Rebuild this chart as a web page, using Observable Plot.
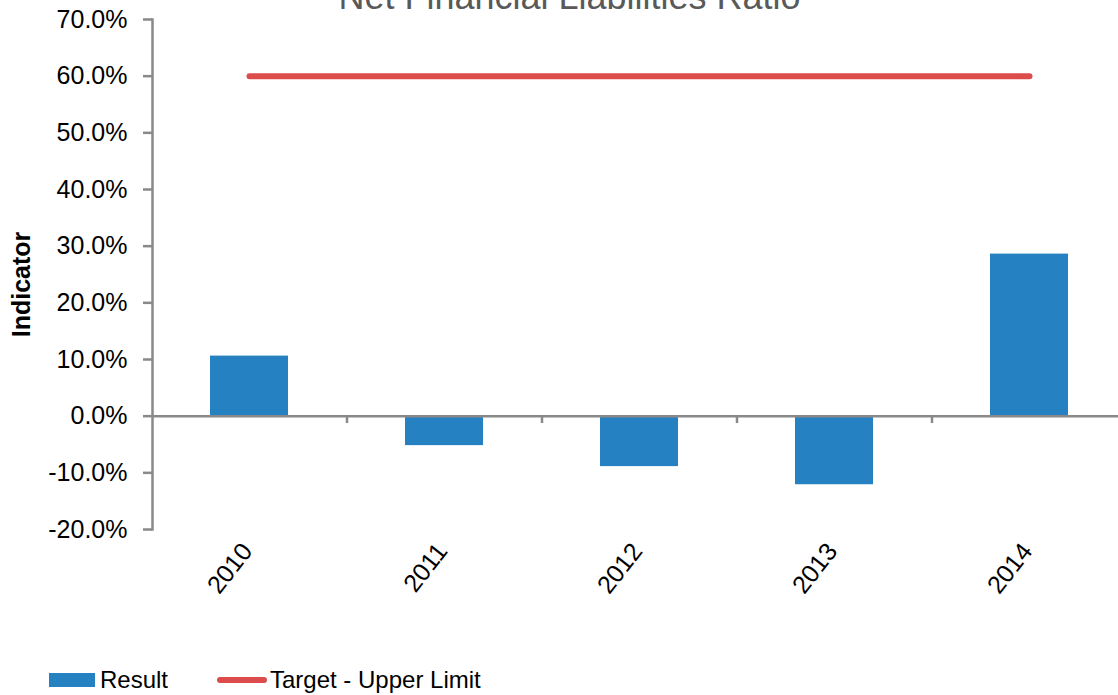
<!DOCTYPE html>
<html>
<head>
<meta charset="utf-8">
<script src="https://cdn.jsdelivr.net/npm/d3@7"></script>
<script src="https://cdn.jsdelivr.net/npm/@observablehq/plot@0.6"></script>
<style>
  html, body { margin: 0; padding: 0; background: #fff; }
  #wrap { position: relative; width: 1118px; height: 695px; overflow: hidden; font-family: "Liberation Sans", Arial, sans-serif; }
  #legend span { position: absolute; font-size: 24px; color: #000; line-height: 1; }
</style>
</head>
<body>
<div id="wrap">
  <div id="chart"></div>
  <div id="legend"></div>
</div>
<script>
const years = ["2010", "2011", "2012", "2013", "2014"];
const results = [0.106, -0.052, -0.089, -0.121, 0.286];
const targets = [0.60, 0.60, 0.60, 0.60, 0.60];
const yTicks = [-0.2, -0.1, 0, 0.1, 0.2, 0.3, 0.4, 0.5, 0.6, 0.7];
const title = "Net Financial Liabilities Ratio";
const yLabel = "Indicator";
const seriesNames = ["Result", "Target - Upper Limit"];

const barColor = "#2581c1";
const lineColor = "#dc4c4a";
const axisGray = "#898989";

const barData = years.map((y, i) => ({year: y, value: results[i]}));
const lineData = years.map((y, i) => ({year: y, value: targets[i]}));

const chart = Plot.plot({
  width: 1118,
  height: 650,
  marginLeft: 152,
  marginRight: 0,
  marginTop: 19,
  marginBottom: 121,
  style: {fontFamily: "'Liberation Sans', Arial, sans-serif", background: "#fff", overflow: "visible"},
  x: {type: "band", domain: years, range: [152, 1127], paddingInner: 0.6, paddingOuter: 0.3, axis: null},
  y: {domain: [-0.2, 0.7], axis: null},
  marks: [
    Plot.barY(barData, {x: "year", y: "value", fill: barColor}),
    Plot.ruleY([0], {stroke: axisGray, strokeWidth: 2.5}),
    Plot.ruleX(years.slice(0, 4), {x: d => d, dx: 97.5, y1: 0, y2: -0.013, stroke: axisGray, strokeWidth: 2.5}),
    Plot.frame({anchor: "left", stroke: axisGray, strokeWidth: 2.5}),
    Plot.axisY({ticks: yTicks, tickFormat: d => (d * 100).toFixed(1) + "%", tickSize: 9, tickPadding: 16, stroke: axisGray, strokeWidth: 2.5, fill: "#000", fontSize: 25, label: null}),
    Plot.line(lineData, {x: "year", y: "value", stroke: lineColor, strokeWidth: 6, strokeLinecap: "round"}),
    Plot.text(years, {x: d => d, frameAnchor: "bottom", dx: 4, dy: 22, rotate: -52, textAnchor: "end", fontSize: 25, fill: "#000"}),
    Plot.text([yLabel], {frameAnchor: "left", textAnchor: "middle", dx: -131, dy: 10, rotate: -90, fontSize: 25, fontWeight: "bold", fill: "#000"}),
    Plot.text([title], {frameAnchor: "top", textAnchor: "middle", dx: -66, dy: -11, lineAnchor: "bottom", fontSize: 36, fill: "#595959"})
  ]
});
document.getElementById("chart").appendChild(chart);

const legend = document.getElementById("legend");
legend.innerHTML = `
  <div style="position:absolute;left:49px;top:673px;width:46px;height:14px;background:${barColor}"></div>
  <span style="left:100px;top:668px">${seriesNames[0]}</span>
  <div style="position:absolute;left:217px;top:677px;width:50px;height:6px;border-radius:3px;background:${lineColor}"></div>
  <span style="left:270px;top:668px">${seriesNames[1]}</span>
`;
</script>
</body>
</html>
